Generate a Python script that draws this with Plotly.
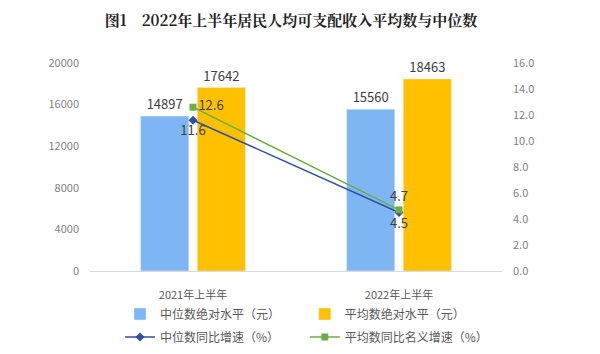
import plotly.graph_objects as go

categories = ["2021年上半年", "2022年上半年"]
median_level = [14897, 15560]
mean_level = [17642, 18463]
median_growth = [11.6, 4.5]
mean_growth = [12.6, 4.7]
left_ticks = [0, 4000, 8000, 12000, 16000, 20000]
right_ticks = [0, 2, 4, 6, 8, 10, 12, 14, 16]

font_family = "Noto Sans CJK SC, Noto Sans, sans-serif"
label_color = "#404040"

fig = go.Figure()
fig.add_trace(go.Bar(
    x=categories, y=median_level, name="中位数绝对水平（元）",
    marker=dict(color="#7EB6F4"), text=[str(v) for v in median_level],
    textposition="outside", textfont=dict(size=13, color=label_color),
    cliponaxis=False, legend="legend", showlegend=True))
fig.add_trace(go.Bar(
    x=categories, y=mean_level, name="平均数绝对水平（元）",
    marker=dict(color="#FFC000"), text=[str(v) for v in mean_level],
    textposition="outside", textfont=dict(size=13, color=label_color),
    cliponaxis=False, legend="legend2", showlegend=True))
fig.add_trace(go.Scatter(
    x=categories, y=median_growth, name="中位数同比增速（%）", yaxis="y2",
    mode="lines+markers+text", line=dict(color="#2F4F9F", width=1.5),
    marker=dict(symbol="diamond", size=7, color="#2F4F9F"),
    text=[f"{v:.1f}" for v in median_growth],
    textposition=["bottom center", "bottom center"],
    textfont=dict(size=13, color=label_color), cliponaxis=False,
    legend="legend3", showlegend=True))
fig.add_trace(go.Scatter(
    x=categories, y=mean_growth, name="平均数同比名义增速（%）", yaxis="y2",
    mode="lines+markers+text", line=dict(color="#70AD47", width=1.5),
    marker=dict(symbol="square", size=7, color="#70AD47"),
    text=[f"{v:.1f}" for v in mean_growth],
    textposition=["middle right", "top center"],
    textfont=dict(size=13, color=label_color), cliponaxis=False,
    legend="legend4", showlegend=True))

def leg(x, y):
    return dict(orientation="h", x=x, xanchor="left", y=y, yanchor="middle",
                xref="container", yref="container", visible=True,
                font=dict(size=12, color="#595959"), bgcolor="rgba(0,0,0,0)")

fig.update_layout(
    width=600, height=354,
    showlegend=True,
    margin=dict(l=90, r=98, t=63, b=83, autoexpand=False),
    paper_bgcolor="white", plot_bgcolor="white",
    font=dict(family=font_family, color="#595959"),
    barmode="group", bargap=0.45, bargroupgap=0.15,
    title=dict(text="<b>图1    2022年上半年居民人均可支配收入平均数与中位数</b>",
               x=0.485, xanchor="center", y=0.94, yanchor="middle",
               font=dict(size=15, color="#222222", family="Noto Serif CJK SC, Noto Sans CJK SC, serif")),
    xaxis=dict(showgrid=False, showline=True, linecolor="#D9D9D9", linewidth=1,
               tickfont=dict(size=11, color="#595959"), ticks="", ticklabelstandoff=14),
    yaxis=dict(range=[0, 20000], tickvals=left_ticks, ticktext=[str(v) for v in left_ticks],
               showgrid=False, zeroline=False,
               tickfont=dict(size=11, color="#7F7F7F"), ticklabelstandoff=10),
    yaxis2=dict(range=[0, 16], tickvals=right_ticks, tickformat=".1f", overlaying="y",
                side="right", showgrid=False, zeroline=False,
                tickfont=dict(size=11, color="#7F7F7F"), ticklabelstandoff=10),
    legend=leg(0.2, 0.113),
    legend2=leg(0.508, 0.113),
    legend3=leg(0.2, 0.048),
    legend4=leg(0.508, 0.048),
)

fig.write_html("out.html")
